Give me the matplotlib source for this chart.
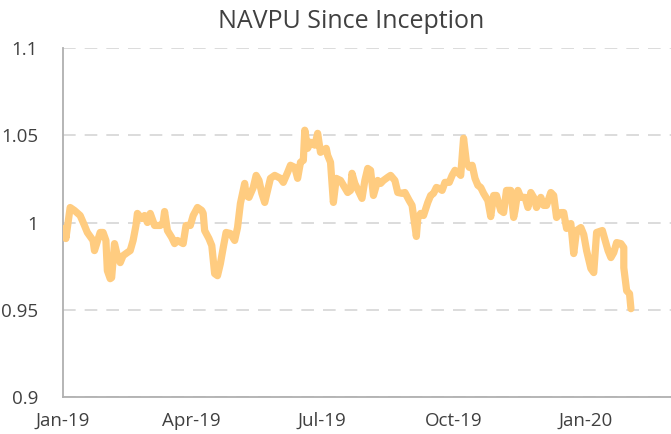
import numpy as np
import matplotlib
matplotlib.use('Agg')
import matplotlib.pyplot as plt
import matplotlib.dates as mdates

# days since 2019-01-01 and NAVPU
days = [1, 2, 5, 8, 12, 15, 17, 21, 22, 26,
        28, 30, 31, 33, 34, 36, 38, 40, 42, 45,
        47, 49, 51, 52, 55, 57, 59, 61, 64, 68,
        70, 71, 73, 76, 78, 80, 84, 86, 89, 91,
        94, 97, 98, 99, 102, 104, 106, 108, 110, 112,
        114, 117, 120, 122, 124, 127, 128, 130, 133, 135,
        137, 139, 141, 143, 145, 148, 152, 154, 157, 159,
        162, 164, 166, 168, 169, 171, 173, 176, 178, 180,
        182, 184, 185, 187, 189, 191, 194, 196, 199, 201,
        202, 204, 207, 209, 211, 213, 215, 217, 220, 222,
        224, 227, 229, 232, 234, 237, 239, 242, 244, 245,
        247, 248, 250, 252, 255, 257, 259, 261, 263, 265,
        267, 270, 272, 274, 276, 278, 280, 282, 284, 286,
        288, 290, 292, 294, 297, 299, 301, 303, 306, 308,
        310, 313, 315, 316, 318, 320, 323, 325, 327, 329,
        331, 334, 336, 338, 341, 343, 345, 348, 350, 352,
        355, 357, 359, 362, 364, 366, 369, 371, 373, 377,
        379, 381, 383, 385, 387, 390, 392, 392, 394, 396,
        397]

navpu = [0.9966, 0.9908, 1.0086, 1.0069, 1.0040, 0.9983, 0.9943, 0.9897, 0.9839, 0.9943,
         0.9943, 0.9897, 0.9724, 0.9678, 0.9684, 0.9879, 0.9810, 0.9770, 0.9810, 0.9828,
         0.9839, 0.9897, 0.9983, 1.0052, 1.0023, 1.0040, 1.0000, 1.0052, 0.9983, 0.9983,
         1.0000, 1.0063, 0.9954, 0.9914, 0.9879, 0.9897, 0.9879, 0.9983, 0.9983, 1.0040,
         1.0086, 1.0069, 1.0052, 0.9954, 0.9908, 0.9868, 0.9707, 0.9695, 0.9764, 0.9856,
         0.9943, 0.9937, 0.9897, 0.9971, 1.0109, 1.0224, 1.0155, 1.0144, 1.0201, 1.0270,
         1.0241, 1.0167, 1.0115, 1.0184, 1.0253, 1.0270, 1.0253, 1.0230, 1.0287, 1.0328,
         1.0316, 1.0253, 1.0345, 1.0356, 1.0529, 1.0425, 1.0460, 1.0443, 1.0511, 1.0402,
         1.0414, 1.0425, 1.0385, 1.0345, 1.0115, 1.0253, 1.0241, 1.0213, 1.0172, 1.0184,
         1.0282, 1.0224, 1.0172, 1.0138, 1.0241, 1.0310, 1.0299, 1.0155, 1.0241, 1.0224,
         1.0241, 1.0259, 1.0270, 1.0241, 1.0172, 1.0167, 1.0172, 1.0126, 1.0098, 1.0040,
         0.9920, 1.0023, 1.0052, 1.0040, 1.0115, 1.0155, 1.0167, 1.0201, 1.0195, 1.0184,
         1.0230, 1.0230, 1.0270, 1.0299, 1.0287, 1.0270, 1.0483, 1.0345, 1.0316, 1.0328,
         1.0253, 1.0213, 1.0201, 1.0167, 1.0126, 1.0034, 1.0155, 1.0155, 1.0069, 1.0057,
         1.0184, 1.0184, 1.0029, 1.0069, 1.0184, 1.0144, 1.0144, 1.0086, 1.0172, 1.0144,
         1.0086, 1.0144, 1.0098, 1.0098, 1.0172, 1.0155, 1.0029, 1.0057, 1.0057, 0.9966,
         0.9994, 0.9822, 0.9954, 0.9971, 0.9931, 0.9839, 0.9736, 0.9713, 0.9943, 0.9954,
         0.9897, 0.9839, 0.9799, 0.9828, 0.9885, 0.9879, 0.9856, 0.9741, 0.9609, 0.9592,
         0.9506]

tick_dates = ['2019-01-01', '2019-04-01', '2019-07-01', '2019-10-01', '2020-01-01']
y_ticks = [0.9, 0.95, 1.0, 1.05, 1.1]
y_labels = ['0.9', '0.95', '1', '1.05', '1.1']

start = np.datetime64('2019-01-01')
dates = start + np.array(days).astype('timedelta64[D]')

plt.rcParams['font.family'] = ['Open Sans', 'DejaVu Sans']
text_color = '#404040'

fig = plt.figure(figsize=(6.71, 4.34), dpi=100)
ax = fig.add_axes([63/671, 1 - 397/434, 1 - 63/671, (397 - 48)/434])

ax.plot(dates, navpu, color='#FFCC80', lw=5.2, solid_joinstyle='round',
        solid_capstyle='round', zorder=3)

ax.set_ylim(0.9, 1.1)
ax.set_yticks(y_ticks)
ax.set_yticklabels(y_labels)
ax.set_xlim(start, np.datetime64('2020-03-01'))
ax.set_xticks([np.datetime64(d) for d in tick_dates])
ax.xaxis.set_major_formatter(mdates.DateFormatter('%b-%y'))

ax.grid(axis='y', color='#d9d9d9', lw=1.3, linestyle=(0, (7, 5)))
ax.set_axisbelow(True)
for s in ['top', 'right']:
    ax.spines[s].set_visible(False)
for s in ['left', 'bottom']:
    ax.spines[s].set_color('#b0b0b0')
    ax.spines[s].set_linewidth(1.3)
ax.tick_params(axis='both', length=0, labelsize=13.5, colors=text_color)
ax.tick_params(axis='y', pad=18)
ax.tick_params(axis='x', pad=11)

fig.text(351/671, 1 - 22/434, 'NAVPU Since Inception', ha='center', va='center',
         fontsize=18, color=text_color)

fig.savefig('out.png', dpi=100)
